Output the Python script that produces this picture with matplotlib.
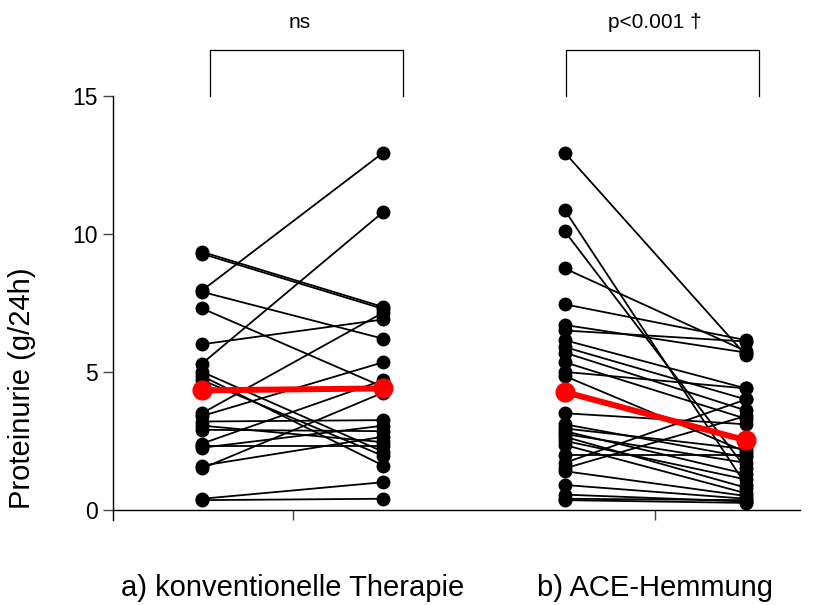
import matplotlib
matplotlib.use("Agg")
import matplotlib.pyplot as plt
import matplotlib.transforms as mtransforms

plt.rcParams['font.family'] = ['Liberation Sans', 'DejaVu Sans']

# Group labels and significance annotations
groups = ["a) konventionelle Therapie", "b) ACE-Hemmung"]
significance = ["ns", "p<0.001 \u2020"]

# Individual patients, proteinuria before/after (g/24h)
conv_before = [9.35, 9.28, 7.95, 7.9, 7.3, 6.0, 5.3, 5.0, 4.85, 4.7, 3.5,
               3.4, 3.2, 3.05, 2.9, 2.4, 2.3, 2.25, 1.6, 1.5, 0.4, 0.35]
conv_after = [7.35, 7.28, 12.95, 6.2, 4.45, 6.9, 10.8, 2.1, 1.6, 1.95, 7.15,
              5.35, 3.25, 2.45, 2.85, 4.7, 2.3, 3.05, 2.65, 4.25, 1.0, 0.4]

ace_before = [12.95, 10.87, 10.1, 8.75, 7.45, 6.7, 6.5, 6.15, 5.9, 5.7, 5.35,
              5.0, 4.85, 3.5, 3.1, 2.95, 2.85, 2.75, 2.65, 2.5, 2.35, 2.0,
              1.7, 1.5, 1.4, 0.9, 0.55, 0.4, 0.35]
ace_after = [5.6, 0.9, 1.5, 5.75, 6.15, 5.7, 6.1, 4.4, 4.0, 3.6, 3.3,
             4.4, 2.1, 3.1, 1.9, 2.2, 1.3, 1.7, 0.8, 1.1, 0.6, 2.0,
             4.0, 3.4, 0.5, 0.4, 0.3, 0.35, 0.25]

# Group means (before, after)
conv_mean = [4.33, 4.40]
ace_mean = [4.27, 2.52]

y_ticks = [0, 5, 10, 15]

fig = plt.figure(figsize=(8.27, 6.05), dpi=100)
ax = fig.add_axes([113 / 827, 1 - 520 / 605, (800 - 113) / 827, (520 - 96) / 605])
ax.set_xlim(-0.491, 3.298)
ax.set_ylim(-0.37, 15)

series = [((0, 1), conv_before, conv_after, conv_mean),
          ((2, 3), ace_before, ace_after, ace_mean)]

for (xa, xb), before, after, mean in series:
    for b, a in zip(before, after):
        ax.plot([xa, xb], [b, a], color='black', lw=1.3, zorder=2,
                solid_capstyle='round')
    ax.plot([xa] * len(before), before, 'o', color='black', ms=9,
            mec='black', zorder=3, clip_on=False)
    ax.plot([xb] * len(after), after, 'o', color='black', ms=9,
            mec='black', zorder=3, clip_on=False)
    ax.plot([xa, xb], mean, color='#ff0000', lw=4.3, zorder=4)
    ax.plot([xa, xb], mean, 'o', color='#ff0000', ms=13.5, mec='#ff0000',
            zorder=5)

# Axes styling
for s in ['top', 'right']:
    ax.spines[s].set_visible(False)
ax.spines['bottom'].set_position(('data', 0))
ax.spines['left'].set_linewidth(1.0)
ax.spines['bottom'].set_linewidth(1.0)

ax.set_yticks(y_ticks)
ax.set_yticklabels([str(t) for t in y_ticks])
ax.tick_params(axis='y', direction='out', length=7.2, width=1.0,
               colors='#444444', labelcolor='black', labelsize=16.5, pad=4)
ax.set_xticks([0.5, 2.5])
ax.set_xticklabels([])
ax.tick_params(axis='x', direction='out', length=7.5, width=1.0,
               colors='#444444')

# Group labels under the axis
trans = mtransforms.blended_transform_factory(ax.transData, fig.transFigure)
for xc, lab in zip([0.5, 2.5], groups):
    ax.text(xc, 1 - 588 / 605, lab, transform=trans, ha='center',
            va='center', fontsize=21)

# Significance brackets
brackets = [(0.044, 1.109), (2.008, 3.072)]
for (x0, x1), txt in zip(brackets, significance):
    ax.plot([x0, x0, x1, x1], [15.0, 16.65, 16.65, 15.0], color='black',
            lw=0.9, clip_on=False)
    ax.text((x0 + x1) / 2 - 0.04, 17.67, txt, ha='center', va='center',
            fontsize=15)

fig.text(22 / 827, 1 - 388 / 605, "Proteinurie (g/24h)", rotation=90,
         ha='center', va='center', fontsize=21)

fig.savefig("out.png", dpi=100)
